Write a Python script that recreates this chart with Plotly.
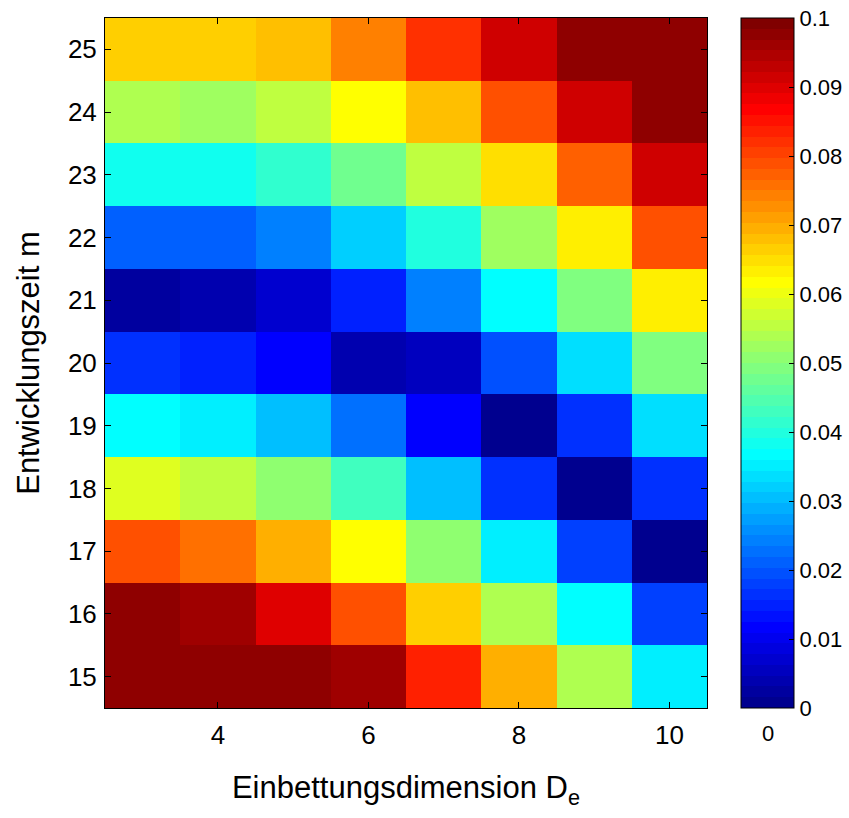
import plotly.graph_objects as go

# Data
dims = [3, 4, 5, 6, 7, 8, 9, 10]
times = [15, 16, 17, 18, 19, 20, 21, 22, 23, 24, 25]

m15 = [0.0977, 0.0977, 0.0977, 0.0961, 0.0836, 0.0695, 0.0539, 0.0352]
m16 = [0.0977, 0.0961, 0.0898, 0.0789, 0.0664, 0.0539, 0.0367, 0.0180]
m17 = [0.0789, 0.0758, 0.0695, 0.0617, 0.0508, 0.0352, 0.0180, 0.0008]
m18 = [0.0586, 0.0555, 0.0508, 0.0430, 0.0305, 0.0164, 0.0008, 0.0164]
m19 = [0.0367, 0.0352, 0.0305, 0.0227, 0.0117, 0.0008, 0.0164, 0.0336]
m20 = [0.0164, 0.0148, 0.0117, 0.0039, 0.0055, 0.0195, 0.0336, 0.0492]
m21 = [0.0023, 0.0039, 0.0070, 0.0148, 0.0242, 0.0367, 0.0492, 0.0633]
m22 = [0.0211, 0.0211, 0.0242, 0.0320, 0.0398, 0.0523, 0.0633, 0.0789]
m23 = [0.0383, 0.0383, 0.0414, 0.0477, 0.0555, 0.0648, 0.0773, 0.0914]
m24 = [0.0539, 0.0523, 0.0555, 0.0617, 0.0680, 0.0789, 0.0914, 0.0977]
m25 = [0.0664, 0.0664, 0.0680, 0.0742, 0.0820, 0.0914, 0.0977, 0.0977]

cb_tickvals = [0, 0.01, 0.02, 0.03, 0.04, 0.05, 0.06, 0.07, 0.08, 0.09, 0.1]
cb_ticktext = ["0", "0.01", "0.02", "0.03", "0.04", "0.05", "0.06", "0.07", "0.08", "0.09", "0.1"]
zmin, zmax = 0.0, 0.1

z = [m15, m16, m17, m18, m19, m20, m21, m22, m23, m24, m25]


# MATLAB jet(64) colormap, discrete
def jet64():
    m = 64
    n = 16
    u = [j / n for j in range(1, n + 1)] + [1.0] * (n - 1) + [j / n for j in range(n, 0, -1)]
    J = [[0.0, 0.0, 0.0] for _ in range(m)]
    L = len(u)
    g = [8 + k for k in range(1, L + 1)]
    r = [gi + n for gi in g if gi + n <= m]
    b = [gi - n for gi in g if gi - n >= 1]
    gg = [gi for gi in g if gi <= m]
    for k, idx in enumerate(r):
        J[idx - 1][0] = u[k]
    for k, idx in enumerate(gg):
        J[idx - 1][1] = u[k]
    off = L - len(b)
    for k, idx in enumerate(b):
        J[idx - 1][2] = u[off + k]
    return J


cmap = jet64()
colorscale = []
for k, c in enumerate(cmap):
    col = "rgb(%d,%d,%d)" % tuple(round(v * 255) for v in c)
    colorscale.append([k / 64, col])
    colorscale.append([(k + 1) / 64, col])

FONT = "Liberation Sans, Arial, Helvetica, sans-serif"

# layout geometry (pixels)
W, H = 849, 818
L_, R_, T_, B_ = 105, 142, 18, 110
PW = W - L_ - R_
PH = H - T_ - B_
CB_LEFT, CB_RIGHT = 741, 795


def px_x(p):
    return (p - L_) / PW


fig = go.Figure(
    go.Heatmap(
        x=dims,
        y=times,
        z=z,
        zmin=zmin,
        zmax=zmax,
        colorscale=colorscale,
        colorbar=dict(
            x=px_x(CB_LEFT),
            xanchor="left",
            xpad=0,
            y=0.5,
            yanchor="middle",
            len=1,
            lenmode="fraction",
            ypad=0,
            thickness=CB_RIGHT - CB_LEFT - 1,
            thicknessmode="pixels",
            outlinewidth=1,
            outlinecolor="black",
            ticks="inside",
            ticklen=5,
            tickcolor="black",
            tickvals=cb_tickvals,
            ticktext=cb_ticktext,
            tickfont=dict(family=FONT, size=22, color="black"),
        ),
    )
)

# mirrored ticks on left edge of colorbar + bottom/top x tick
shapes = []
for v in cb_tickvals[1:-1]:
    yy = (v - zmin) / (zmax - zmin)
    shapes.append(dict(type="line", xref="paper", yref="paper",
                       x0=px_x(CB_LEFT), x1=px_x(CB_LEFT + 5), y0=yy, y1=yy,
                       line=dict(color="black", width=1)))
cb_mid = (CB_LEFT + CB_RIGHT) / 2
for y0, y1 in [(0, 6 / PH), (1, 1 - 6 / PH)]:
    shapes.append(dict(type="line", xref="paper", yref="paper",
                       x0=px_x(cb_mid), x1=px_x(cb_mid), y0=y0, y1=y1,
                       line=dict(color="black", width=1)))

fig.update_layout(
    width=W,
    height=H,
    margin=dict(l=L_, r=R_, t=T_, b=B_, autoexpand=False),
    paper_bgcolor="white",
    plot_bgcolor="white",
    font=dict(family=FONT, color="black"),
    xaxis=dict(
        range=[2.5, 10.5],
        tickvals=[4, 6, 8, 10],
        ticks="inside",
        ticklen=6,
        tickcolor="black",
        showline=True,
        linecolor="black",
        linewidth=1,
        mirror="ticks",
        showgrid=False,
        zeroline=False,
        ticklabelstandoff=4,
        tickfont=dict(size=26),
        title=dict(text="Einbettungsdimension D<sub>e</sub>", font=dict(size=31), standoff=27),
    ),
    yaxis=dict(
        range=[14.5, 25.5],
        tickvals=times,
        ticks="inside",
        ticklen=6,
        tickcolor="black",
        showline=True,
        linecolor="black",
        linewidth=1,
        mirror="ticks",
        showgrid=False,
        zeroline=False,
        ticklabelstandoff=2,
        tickfont=dict(size=26),
        title=dict(text="Entwicklungszeit m", font=dict(size=31), standoff=19),
    ),
    shapes=shapes,
    annotations=[
        dict(
            x=px_x(cb_mid),
            y=-25 / PH,
            xref="paper",
            yref="paper",
            text="0",
            showarrow=False,
            font=dict(family=FONT, size=22, color="black"),
            xanchor="center",
            yanchor="middle",
        )
    ],
)

fig.write_html("out.html")
